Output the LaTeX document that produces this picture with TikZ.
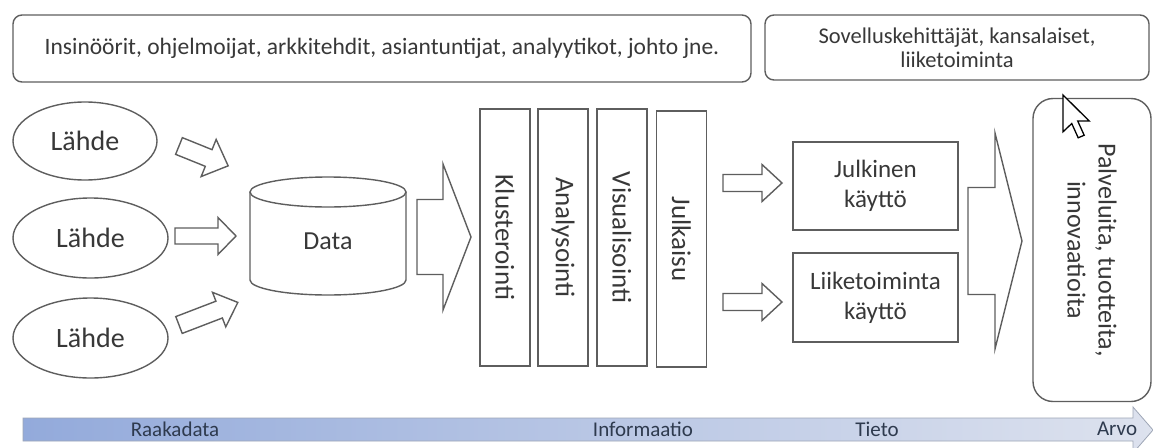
\documentclass[tikz,border=0pt]{standalone}
\usepackage{fontspec}
\setmainfont{Carlito}
\usetikzlibrary{shapes.geometric}
\definecolor{ink}{HTML}{383838}
\definecolor{edge}{HTML}{5E5E5E}
\definecolor{barink}{HTML}{2E3A4E}
\definecolor{barleft}{HTML}{93AADB}
\definecolor{barmid}{HTML}{B5C6EE}
\definecolor{barright}{HTML}{DDE2EE}
\definecolor{barline}{HTML}{9EA6B6}

\tikzset{
  % hollow block arrow: length, shaft half-width, head half-width, head length
  pics/blockarrow/.style args={#1,#2,#3,#4}{code={
    \draw[outline,line join=miter] (0,-#2) -- ({#1-#4},-#2) -- ({#1-#4},-#3)
      -- (#1,0) -- ({#1-#4},#3) -- ({#1-#4},#2) -- (0,#2) -- cycle;
  }}
}

\begin{document}
\begin{tikzpicture}[x=1pt,y=-1pt,
  outline/.style={draw=edge,line width=1.4pt},
  txt/.style={text=ink,font=\fontsize{27}{32}\selectfont},
  boxtxt/.style={text=ink,font=\fontsize{25}{30}\selectfont},
  roundbox/.style={outline,rounded corners=9pt,inner sep=0pt},
  source/.style={outline,ellipse,inner sep=0pt,text=ink,
    font=\fontsize{28}{33}\selectfont},
  stage/.style={outline,rectangle,inner sep=0pt,rotate=-90,
    minimum height=50pt,txt},
  usebox/.style={outline,rectangle,inner sep=0pt,minimum width=165pt,
    minimum height=88pt,align=center,boxtxt},
  barlabel/.style={text=barink,font=\fontsize{21}{25}\selectfont}
]
\useasboundingbox (0,0) rectangle (1153,447);
\fill[white] (0,0) rectangle (1153,447);

% actors
\node[roundbox,minimum width=738pt,minimum height=67pt,text=ink,
  font=\fontsize{23.5}{28}\selectfont] (actors)
  at (382,48.5) {Insinöörit, ohjelmoijat, arkkitehdit, asiantuntijat, analyytikot, johto jne.};
\node[roundbox,minimum width=384pt,minimum height=65pt,text=ink,
  font=\fontsize{22.5}{24}\selectfont,align=center] (users)
  at (957,47.5) {Sovelluskehittäjät, kansalaiset,\\liiketoiminta};

% sources
\node[source,minimum width=144pt,minimum height=78pt] (src1) at (85,141) {Lähde};
\node[source,minimum width=155pt,minimum height=80pt] (src2) at (90.5,238) {Lähde};
\node[source,minimum width=155pt,minimum height=80pt] (src3) at (90.5,338) {Lähde};

\pic[rotate=-22] at (179,146) {blockarrow={53,9,20,21}};
\pic at (175,236) {blockarrow={61,8,18.5,18}};
\pic[rotate=21] at (179,325) {blockarrow={63,9,18.5,20}};

% data store
\draw[outline] (250,192) -- (250,280)
  arc[start angle=180,end angle=0,x radius=78,y radius=15] -- (406,192);
\draw[outline] (328,192) ellipse[x radius=78,y radius=15];
\node[text=ink,font=\fontsize{26}{31}\selectfont] (data) at (328,241) {Data};

\pic at (417,237) {blockarrow={54,37.5,73,28}};

% processing stages
\node[stage,minimum width=257pt] (clu) at (505,237.5) {Klusterointi};
\node[stage,minimum width=257pt] (ana) at (563,237.5) {Analysointi};
\node[stage,minimum width=257pt] (vis) at (622,237.5) {Visualisointi};
\node[stage,minimum width=256pt] (pub) at (681.5,239) {Julkaisu};

\pic at (723,183) {blockarrow={59,8.5,18.5,20}};
\pic at (723,302) {blockarrow={59,8.5,18.5,20}};

% usage
\node[usebox] (public) at (875.5,186) {Julkinen\\käyttö};
\node[usebox,minimum height=89pt] (business) at (875.5,297.5) {Liiketoiminta\\käyttö};

\pic at (968,241) {blockarrow={54,53.5,108,27}};

% value
\node[outline,rounded corners=20pt,inner sep=0pt,rotate=-90,minimum width=303pt,
  minimum height=118pt,align=center,text=ink,font=\fontsize{26}{31}\selectfont]
  (value) at (1092,250) {Palveluita, tuotteita,\\innovaatioita};

% value chain bar
\shade[left color=barleft,middle color=barmid,right color=barright,
  draw=barline,line width=0.8pt]
  (23,418) -- (1133,418) -- (1133,407) -- (1153,430) -- (1133,453)
  -- (1133,441) -- (23,441) -- cycle;
\node[barlabel] (raw) at (175,429) {Raakadata};
\node[barlabel] (info) at (643,429) {Informaatio};
\node[barlabel] (know) at (877,429) {Tieto};
\node[barlabel] (worth) at (1117,429) {Arvo};

% mouse pointer
\draw[fill=white,draw=black,line width=1.3pt,line join=miter,
  shift={(1063,95)},scale=2.3]
  (0,0) -- (0,16) -- (3.8,12.4) -- (6.6,18.6) -- (9.2,17.5) -- (6.4,11.3)
  -- (11.4,11.3) -- cycle;
\end{tikzpicture}
\end{document}
